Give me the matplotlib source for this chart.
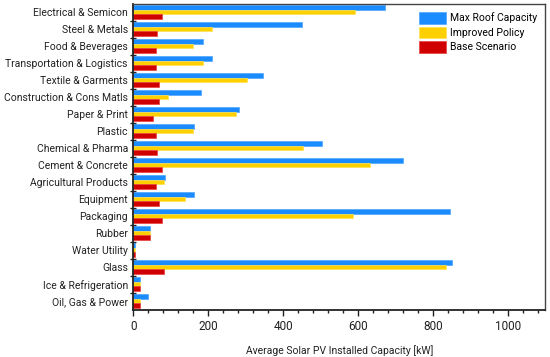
import matplotlib
matplotlib.use("Agg")
import matplotlib.pyplot as plt
import numpy as np
from matplotlib.ticker import MultipleLocator, FixedLocator

categories = ["Electrical & Semicon", "Steel & Metals", "Food & Beverages",
              "Transportation & Logistics", "Textile & Garments",
              "Construction & Cons Matls", "Paper & Print", "Plastic",
              "Chemical & Pharma", "Cement & Concrete", "Agricultural Products",
              "Equipment", "Packaging", "Rubber", "Water Utility", "Glass",
              "Ice & Refrigeration", "Oil, Gas & Power"]
max_roof = [671, 450, 187, 209, 345, 180, 283, 163, 504, 720, 83, 163, 845, 43, 5, 852, 18, 38]
improved = [591, 209, 158, 186, 303, 93, 275, 160, 452, 632, 81, 139, 587, 43, 4, 834, 18, 17]
base = [77, 64, 59, 59, 67, 67, 53, 59, 64, 75, 59, 67, 77, 43, 4, 82, 18, 17]
series_names = ["Max Roof Capacity", "Improved Policy", "Base Scenario"]
colors = ["#1a8cff", "#ffd000", "#d00000"]
edges = ["#4da6ff", "#ffe050", "#e84040"]

plt.rcParams['font.family'] = ['Roboto', 'DejaVu Sans']
FS = 7.5

fig = plt.figure(figsize=(5.5, 3.57), dpi=100)
ax = fig.add_axes([0.2427, 0.132, 0.991 - 0.2427, 0.989 - 0.132])

y = np.arange(len(categories))
h = 0.265
for i, (vals, name) in enumerate(zip([max_roof, improved, base], series_names)):
    ax.barh(y + (i - 1) * h - 0.03, vals, height=h, color=colors[i], edgecolor=edges[i],
            linewidth=0.5, label=name)

ax.set_ylim(len(categories) - 0.5, -0.5)
ax.set_xlim(0, 1100)
ax.set_yticks(y)
ax.set_yticklabels(categories, fontsize=FS, color="#222222")
ax.yaxis.set_minor_locator(FixedLocator(y[:-1] + 0.5))
ax.tick_params(axis='y', which='major', length=0, pad=4)
ax.tick_params(axis='y', which='minor', direction='inout', length=5, width=1, color='#222222')
ax.xaxis.set_major_locator(MultipleLocator(200))
ax.xaxis.set_minor_locator(MultipleLocator(40))
ax.tick_params(axis='x', which='major', direction='out', length=4, width=1, labelsize=8.5,
               color='#222222', labelcolor='#222222', pad=3)
ax.tick_params(axis='x', which='minor', direction='out', length=2.5, width=1, color='#222222')
ax.set_xlabel("Average Solar PV Installed Capacity [kW]", fontsize=FS, color="#222222", labelpad=9)

for s in ['left', 'bottom']:
    ax.spines[s].set_linewidth(1.3)
    ax.spines[s].set_color('#222222')
for s in ['top', 'right']:
    ax.spines[s].set_linewidth(1.0)
    ax.spines[s].set_color('#444444')

leg = ax.legend(loc='upper right', frameon=False, fontsize=FS, handlelength=2.6,
                handleheight=1.3, handletextpad=0.3, labelspacing=0.3,
                borderaxespad=0.4)

fig.savefig("out.png", dpi=100)
